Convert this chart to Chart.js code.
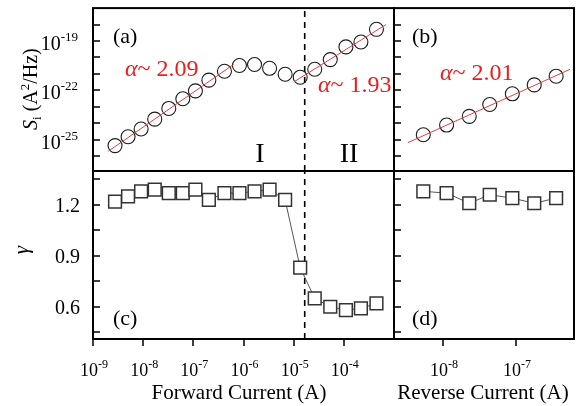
<!DOCTYPE html>
<html>
<head>
<meta charset="utf-8">
<script src="https://cdn.jsdelivr.net/npm/chart.js@4.4.0/dist/chart.umd.min.js"></script>
<style>
  body { margin: 0; background: #fff; }
  #wrap { position: relative; width: 586px; height: 406px; }
  #wrap canvas { position: absolute; left: 0; top: 0; }
</style>
</head>
<body>
<div id="wrap">
  <canvas id="panelA" width="586" height="406"></canvas>
  <canvas id="panelB" width="586" height="406"></canvas>
  <canvas id="panelC" width="586" height="406"></canvas>
  <canvas id="panelD" width="586" height="406"></canvas>
</div>
<script>
// forward bias: current (A), noise PSD Si (A^2/Hz), exponent gamma
const fwdCurrent = [2.75e-9, 5.0e-9, 9.1e-9, 1.7e-8, 3.24e-8, 6.17e-8, 1.1e-7, 2.04e-7, 4.17e-7, 8.3e-7,
                    1.66e-6, 3.31e-6, 6.76e-6, 1.35e-5, 2.63e-5, 5.37e-5, 1.1e-4, 2.19e-4, 4.47e-4];
const fwdNoise = [4.37e-26, 1.51e-25, 4.47e-25, 1.78e-24, 7.94e-24, 3.09e-23, 9.33e-23, 4.17e-22, 1.45e-21, 3.24e-21,
                  3.72e-21, 2.19e-21, 9.55e-22, 6.31e-22, 1.91e-21, 7.41e-21, 4.37e-20, 8.71e-20, 5.13e-19];
const fwdGamma = [1.22, 1.25, 1.28, 1.29, 1.27, 1.27, 1.29, 1.23, 1.27, 1.27,
                  1.28, 1.29, 1.23, 0.83, 0.65, 0.60, 0.58, 0.59, 0.62];

// reverse bias
const revCurrent = [5.37e-9, 1.12e-8, 2.29e-8, 4.37e-8, 8.91e-8, 1.78e-7, 3.55e-7];
const revNoise = [2.0e-25, 7.76e-25, 2.63e-24, 1.38e-23, 6.17e-23, 2.14e-22, 7.24e-22];
const revGamma = [1.28, 1.27, 1.21, 1.26, 1.24, 1.21, 1.24];

// power-law fits Si ~ I^alpha (end points)
const fitLowCurrent = [2.0e-9, 6.3e-7];
const fitLowNoise = [1.95e-26, 3.7e-21];
const fitHighCurrent = [1.0e-5, 6.9e-4];
const fitHighNoise = [3.2e-22, 1.0e-18];
const fitRevCurrent = [3.3e-9, 5.5e-7];
const fitRevNoise = [6.6e-26, 1.9e-21];

// region I / II boundary
const boundaryCurrent = 1.66e-5;

// axis ranges and ticks
const fwdRange = [1e-9, 1e-3];
const revRange = [2.13e-9, 6.24e-7];
const noiseRange = [1.25e-27, 1e-17];
const gammaRange = [0.41, 1.40];
const fwdTickExp = [-9, -8, -7, -6, -5, -4];
const revTickExp = [-8, -7];
const noiseTickExp = [-18, -19, -20, -21, -22, -23, -24, -25, -26];
const noiseLabelExp = [-19, -22, -25];
const gammaTicks = [1.35, 1.2, 1.05, 0.9, 0.75, 0.6, 0.45];
const gammaLabels = [1.2, 0.9, 0.6];

const serif = '"Liberation Serif", "Times New Roman", serif';
const red = '#ef1b1b';

const pts = (xs, ys) => xs.map((x, i) => ({ x: x, y: ys[i] }));

function drawRich(ctx, parts, x, y, align) {
  let w = 0;
  parts.forEach(p => {
    ctx.font = (p[2] || '') + ' ' + p[1] + 'px ' + serif;
    w += ctx.measureText(p[0]).width;
  });
  let cx = align === 'center' ? x - w / 2 : align === 'right' ? x - w : x;
  ctx.textAlign = 'left';
  ctx.textBaseline = 'alphabetic';
  parts.forEach(p => {
    ctx.font = (p[2] || '') + ' ' + p[1] + 'px ' + serif;
    ctx.fillText(p[0], cx, y + (p[3] || 0));
    cx += ctx.measureText(p[0]).width;
  });
}

function pow10(exp, size) {
  const es = Math.round(size * 0.64);
  return [['10', size], [String(exp), es, '', -Math.round(size * 0.45)]];
}

const panelPlugin = {
  id: 'panel',
  afterDraw(chart, args, o) {
    const ctx = chart.ctx, a = chart.chartArea;
    const xs = chart.scales.x, ys = chart.scales.y;
    ctx.save();
    ctx.strokeStyle = '#000';
    ctx.fillStyle = '#000';
    ctx.lineWidth = 1.5;
    ctx.beginPath();
    o.yTicks.forEach(v => {
      const y = Math.round(ys.getPixelForValue(v));
      ctx.moveTo(a.left, y); ctx.lineTo(a.left + 7, y);
    });
    (o.xTicks || []).forEach(v => {
      const x = Math.round(xs.getPixelForValue(v));
      ctx.moveTo(x, a.bottom); ctx.lineTo(x, a.bottom + 7);
    });
    ctx.stroke();
    ctx.lineWidth = 2;
    ctx.strokeRect(a.left, a.top, a.right - a.left, a.bottom - a.top);

    (o.yLabels || []).forEach(v => {
      if (o.yLog) {
        const y = ys.getPixelForValue(Math.pow(10, v));
        drawRich(ctx, pow10(v, 20), a.left - 15, y + 9, 'right');
      } else {
        const y = ys.getPixelForValue(v);
        drawRich(ctx, [[v.toFixed(1), 20]], a.left - 13, y + 7, 'right');
      }
    });
    (o.xLabels || []).forEach(v => {
      const x = xs.getPixelForValue(Math.pow(10, v));
      drawRich(ctx, pow10(v, 18), x + 1, a.bottom + 37, 'center');
    });

    (o.texts || []).forEach(t => {
      const bx = t.from[1] === 'l' ? a.left : a.right;
      const by = t.from[0] === 't' ? a.top : a.bottom;
      ctx.fillStyle = t.color || '#000';
      ctx.save();
      ctx.translate(bx + t.at[0], by + t.at[1]);
      if (t.rot) ctx.rotate(-Math.PI / 2);
      drawRich(ctx, t.parts, 0, 0, t.align || 'left');
      ctx.restore();
    });
    ctx.restore();
  }
};

function panelChart(id, pad, xr, yr, yLog, datasets, deco) {
  return new Chart(document.getElementById(id), {
    type: 'line',
    data: { datasets: datasets },
    options: {
      responsive: false,
      animation: false,
      devicePixelRatio: 1,
      layout: { padding: pad },
      scales: {
        x: { type: 'logarithmic', min: xr[0], max: xr[1], display: false },
        y: { type: yLog ? 'logarithmic' : 'linear', min: yr[0], max: yr[1], display: false }
      },
      plugins: { legend: { display: false }, tooltip: { enabled: false }, panel: deco }
    },
    plugins: [panelPlugin]
  });
}

const fitStyle = { showLine: true, borderColor: '#e2403f', borderWidth: 1, pointRadius: 0 };
const circleStyle = { showLine: false, pointStyle: 'circle', pointRadius: 7, pointBorderColor: '#1a1a1a',
                      pointBorderWidth: 1.1, pointBackgroundColor: 'rgba(0,0,0,0)' };
const squareStyle = { showLine: true, borderColor: '#555', borderWidth: 1, pointStyle: 'rect', pointRadius: 9,
                      pointBorderColor: '#333', pointBorderWidth: 1.5, pointBackgroundColor: '#fff' };
const dashStyle = { showLine: true, borderColor: '#000', borderWidth: 1.6, borderDash: [6, 5], pointRadius: 0 };

const padA = { left: 93, top: 4, right: 192, bottom: 235 };
const padB = { left: 394, top: 4, right: 12, bottom: 235 };
const padC = { left: 93, top: 171, right: 192, bottom: 67 };
const padD = { left: 394, top: 171, right: 12, bottom: 67 };

const noiseTicks = noiseTickExp.map(e => Math.pow(10, e));
const alphaText = v => [['\u03b1', 24, 'italic'], ['~ ' + v, 24]];

panelChart('panelA', padA, fwdRange, noiseRange, true, [
  Object.assign({ data: pts(fitLowCurrent, fitLowNoise) }, fitStyle),
  Object.assign({ data: pts(fitHighCurrent, fitHighNoise) }, fitStyle),
  Object.assign({ data: pts(fwdCurrent, fwdNoise) }, circleStyle),
  Object.assign({ data: pts([boundaryCurrent, boundaryCurrent], noiseRange) }, dashStyle)
], {
  yTicks: noiseTicks, yLog: true, yLabels: noiseLabelExp,
  texts: [
    { from: 'tl', at: [20, 35], parts: [['(a)', 22]] },
    { from: 'tl', at: [32, 68], parts: alphaText('2.09'), color: red },
    { from: 'tl', at: [225, 84], parts: alphaText('1.93'), color: red },
    { from: 'bl', at: [167, -9], parts: [['I', 28]], align: 'center' },
    { from: 'bl', at: [256, -9], parts: [['II', 28]], align: 'center' },
    { from: 'tl', at: [-56, 81], rot: true, align: 'center',
      parts: [['S', 20, 'italic'], ['i', 13, '', 4], [' (A', 20], ['2', 13, '', -8], ['/Hz)', 20]] }
  ]
});

panelChart('panelB', padB, revRange, noiseRange, true, [
  Object.assign({ data: pts(fitRevCurrent, fitRevNoise) }, fitStyle),
  Object.assign({ data: pts(revCurrent, revNoise) }, circleStyle)
], {
  yTicks: noiseTicks,
  texts: [
    { from: 'tl', at: [18, 35], parts: [['(b)', 22]] },
    { from: 'tl', at: [46, 72], parts: alphaText('2.01'), color: red }
  ]
});

panelChart('panelC', padC, fwdRange, gammaRange, false, [
  Object.assign({ data: pts(fwdCurrent, fwdGamma) }, squareStyle),
  Object.assign({ data: pts([boundaryCurrent, boundaryCurrent], gammaRange) }, dashStyle)
], {
  yTicks: gammaTicks, yLabels: gammaLabels,
  xTicks: fwdTickExp.map(e => Math.pow(10, e)), xLabels: fwdTickExp,
  texts: [
    { from: 'bl', at: [20, -14], parts: [['(c)', 22]] },
    { from: 'tl', at: [-65, 79], rot: true, align: 'center', parts: [['\u03b3', 21, 'italic']] },
    { from: 'bl', at: [146, 60], parts: [['Forward Current (A)', 21]], align: 'center' }
  ]
});

panelChart('panelD', padD, revRange, gammaRange, false, [
  Object.assign({ data: pts(revCurrent, revGamma) }, squareStyle)
], {
  yTicks: gammaTicks,
  xTicks: revTickExp.map(e => Math.pow(10, e)), xLabels: revTickExp,
  texts: [
    { from: 'bl', at: [18, -14], parts: [['(d)', 22]] },
    { from: 'bl', at: [89, 60], parts: [['Reverse Current (A)', 21]], align: 'center' }
  ]
});
</script>
</body>
</html>
